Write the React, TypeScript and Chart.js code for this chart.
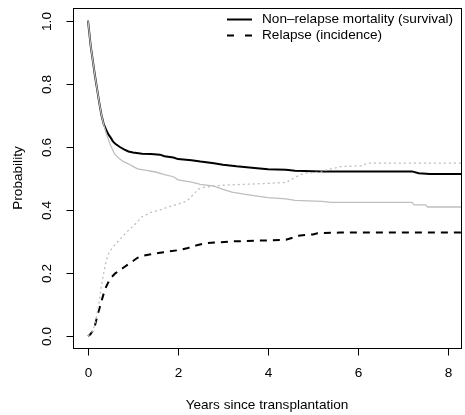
import React, { useEffect, useRef } from "react";
import { Chart, registerables } from "chart.js";

Chart.register(...registerables);

// Non-relapse mortality (survival), black solid
const nrmTime = [0, 0.03, 0.06, 0.1, 0.15, 0.2, 0.25, 0.3, 0.35, 0.4, 0.45, 0.5, 0.55, 0.6, 0.7, 0.8, 0.9, 1.0, 1.2, 1.4, 1.6, 1.7, 1.9, 2.0, 2.3, 2.5, 2.8, 3.0, 3.3, 3.7, 4.0, 4.4, 4.6, 5.2, 7.2, 7.35, 7.6, 8.3];
const nrmSurv = [1.0, 0.96, 0.92, 0.88, 0.83, 0.785, 0.74, 0.70, 0.672, 0.655, 0.64, 0.63, 0.618, 0.61, 0.60, 0.592, 0.585, 0.582, 0.578, 0.577, 0.575, 0.57, 0.566, 0.561, 0.557, 0.553, 0.548, 0.543, 0.538, 0.533, 0.529, 0.527, 0.524, 0.522, 0.522, 0.516, 0.514, 0.514];

// Comparison survival, grey solid
const greySurvTime = [0, 0.03, 0.06, 0.1, 0.15, 0.2, 0.25, 0.3, 0.35, 0.4, 0.45, 0.5, 0.55, 0.6, 0.7, 0.8, 0.9, 1.0, 1.1, 1.3, 1.5, 1.7, 1.9, 2.0, 2.3, 2.5, 2.8, 3.0, 3.2, 3.5, 3.8, 4.0, 4.4, 4.6, 5.2, 5.4, 7.2, 7.25, 7.5, 7.55, 8.3];
const greySurv = [1.0, 0.96, 0.92, 0.88, 0.83, 0.785, 0.74, 0.70, 0.67, 0.645, 0.625, 0.605, 0.59, 0.575, 0.562, 0.552, 0.546, 0.538, 0.53, 0.525, 0.52, 0.512, 0.505, 0.495, 0.488, 0.481, 0.475, 0.465, 0.456, 0.449, 0.443, 0.439, 0.435, 0.43, 0.427, 0.424, 0.424, 0.416, 0.416, 0.409, 0.409];

// Relapse (incidence), black dashed
const relTime = [0, 0.05, 0.1, 0.15, 0.2, 0.25, 0.3, 0.35, 0.4, 0.45, 0.5, 0.6, 0.7, 0.8, 0.9, 1.0, 1.1, 1.2, 1.4, 1.6, 1.8, 2.0, 2.2, 2.4, 2.6, 2.9, 3.2, 3.7, 4.4, 4.55, 4.65, 5.0, 5.1, 5.6, 8.3];
const relInc = [0, 0.005, 0.015, 0.03, 0.06, 0.085, 0.11, 0.135, 0.155, 0.17, 0.183, 0.198, 0.208, 0.218, 0.228, 0.238, 0.248, 0.254, 0.259, 0.264, 0.268, 0.272, 0.278, 0.287, 0.294, 0.297, 0.300, 0.302, 0.305, 0.312, 0.318, 0.322, 0.326, 0.328, 0.328];

// Comparison incidence, grey dotted
const greyIncTime = [0, 0.1, 0.15, 0.2, 0.25, 0.3, 0.35, 0.4, 0.45, 0.5, 0.6, 0.7, 0.8, 0.9, 1.0, 1.1, 1.2, 1.4, 1.6, 1.8, 2.0, 2.2, 2.35, 2.45, 2.6, 2.9, 3.1, 3.5, 4.0, 4.4, 4.5, 4.7, 4.8, 5.2, 5.3, 5.5, 5.6, 6.1, 6.2, 8.3];
const greyInc = [0, 0.015, 0.035, 0.07, 0.11, 0.16, 0.2, 0.235, 0.258, 0.272, 0.29, 0.305, 0.32, 0.335, 0.348, 0.362, 0.378, 0.392, 0.400, 0.41, 0.418, 0.428, 0.45, 0.466, 0.472, 0.477, 0.479, 0.481, 0.484, 0.487, 0.495, 0.51, 0.516, 0.52, 0.527, 0.533, 0.537, 0.54, 0.548, 0.548];

const xTicks = [0, 2, 4, 6, 8];
const yTicks = [0, 0.2, 0.4, 0.6, 0.8, 1.0];
const xTitle = "Years since transplantation";
const yTitle = "Probability";
const legendLabels = ["Non\u2013relapse mortality (survival)", "Relapse (incidence)"];

const FONT = '13.6px "Liberation Sans", Arial, Helvetica, sans-serif';

const pts = (xs: number[], ys: number[]) => xs.map((x, i) => ({ x, y: ys[i] }));

const rPlot = {
  id: "rPlot",
  afterDraw(chart: any) {
    const ctx = chart.ctx;
    const a = chart.chartArea;
    const xs = chart.scales.x;
    const ys = chart.scales.y;
    ctx.save();
    ctx.strokeStyle = "#000";
    ctx.lineWidth = 1;
    // box
    ctx.strokeRect(Math.round(a.left) + 0.5, Math.round(a.top) + 0.5, Math.round(a.right - a.left), Math.round(a.bottom - a.top));
    ctx.fillStyle = "#000";
    ctx.font = FONT;
    // x ticks
    ctx.textAlign = "center";
    ctx.textBaseline = "middle";
    const b = Math.round(a.bottom) + 0.5;
    xTicks.forEach((t) => {
      const px = Math.round(xs.getPixelForValue(t)) + 0.5;
      ctx.beginPath();
      ctx.moveTo(px, b);
      ctx.lineTo(px, b + 7);
      ctx.stroke();
      ctx.fillText(String(t), px, b + 25);
    });
    // y ticks
    const l = Math.round(a.left) + 0.5;
    yTicks.forEach((t) => {
      const py = Math.round(ys.getPixelForValue(t)) + 0.5;
      ctx.beginPath();
      ctx.moveTo(l, py);
      ctx.lineTo(l - 7, py);
      ctx.stroke();
      ctx.save();
      ctx.translate(l - 26, py);
      ctx.rotate(-Math.PI / 2);
      ctx.fillText(t.toFixed(1), 0, 0);
      ctx.restore();
    });
    // titles
    ctx.fillText(xTitle, (a.left + a.right) / 2, 405);
    ctx.save();
    ctx.translate(18, (a.top + a.bottom) / 2);
    ctx.rotate(-Math.PI / 2);
    ctx.fillText(yTitle, 0, 0);
    ctx.restore();
    // legend
    ctx.textAlign = "left";
    const rows = [19, 35];
    const dashes = [[], [7, 11]];
    rows.forEach((ry, i) => {
      ctx.save();
      ctx.lineWidth = 2;
      ctx.setLineDash(dashes[i]);
      ctx.beginPath();
      ctx.moveTo(227, ry + 0.5);
      ctx.lineTo(252, ry + 0.5);
      ctx.stroke();
      ctx.restore();
      ctx.fillText(legendLabels[i], 262, ry);
    });
    ctx.restore();
  },
};

export default function App() {
  const ref = useRef<HTMLCanvasElement>(null);
  useEffect(() => {
    if (!ref.current) return;
    const chart = new Chart(ref.current, {
      type: "line",
      data: {
        datasets: [
          { data: pts(greySurvTime, greySurv), borderColor: "#bebebe", borderWidth: 1.3, pointRadius: 0, fill: false },
          { data: pts(greyIncTime, greyInc), borderColor: "#bebebe", borderWidth: 1.3, borderDash: [2, 3], pointRadius: 0, fill: false },
          { data: pts(nrmTime, nrmSurv), borderColor: "#000", borderWidth: 2, pointRadius: 0, fill: false },
          { data: pts(relTime, relInc), borderColor: "#000", borderWidth: 2, borderDash: [7, 6], pointRadius: 0, fill: false },
        ],
      },
      options: {
        responsive: false,
        animation: false,
        layout: { padding: { left: 73, right: 4, top: 8, bottom: 67 } },
        plugins: { legend: { display: false }, tooltip: { enabled: false } },
        scales: {
          x: { type: "linear", display: false, min: -0.333, max: 8.29 },
          y: { type: "linear", display: false, min: -0.038, max: 1.04 },
        },
      },
      plugins: [rPlot],
    });
    return () => chart.destroy();
  }, []);
  return (
    <div style={{ position: "absolute", left: 0, top: 0, width: 465, height: 415, background: "#fff" }}>
      <canvas ref={ref} width={465} height={415} />
    </div>
  );
}
